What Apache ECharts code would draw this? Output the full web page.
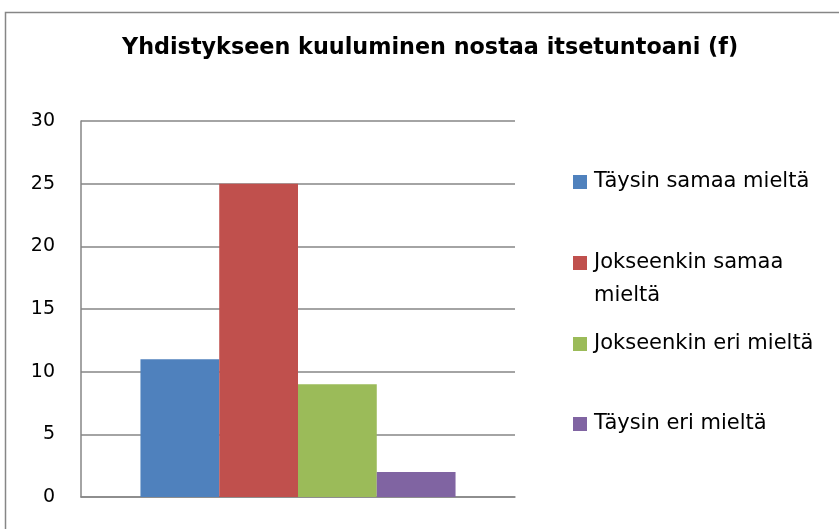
<!DOCTYPE html>
<html>
<head>
<meta charset="utf-8">
<script src="https://cdn.jsdelivr.net/npm/echarts@6/dist/echarts.min.js"></script>
<style>
html,body{margin:0;padding:0;background:#fff;}
#chart{width:839px;height:529px;}
</style>
</head>
<body>
<div id="chart"></div>
<script>
const titleText = 'Yhdistykseen kuuluminen nostaa itsetuntoani (f)';
const categories = [''];
const seriesNames = ['Täysin samaa mieltä', 'Jokseenkin samaa mieltä', 'Jokseenkin eri mieltä', 'Täysin eri mieltä'];
const seriesValues = [11, 25, 9, 2];
const seriesColors = ['#4F81BD', '#C0504D', '#9BBB59', '#8064A2'];
const yTicks = { min: 0, max: 30, interval: 5 };

const chart = echarts.init(document.getElementById('chart'));
const fontFam = 'DejaVu Sans';
const legendTops = [169, 213.5, 331, 411];

const legends = seriesNames.map((name, i) => ({
  data: [name],
  orient: 'vertical',
  left: 573,
  top: legendTops[i],
  padding: 0,
  icon: 'rect',
  itemWidth: 14,
  itemHeight: 14,
  selectedMode: false,
  formatter: (n) => n === 'Jokseenkin samaa mieltä' ? '\nJokseenkin samaa\nmieltä' : n,
  textStyle: i === 1
    ? { fontFamily: fontFam, fontSize: 21, color: '#000', lineHeight: 33, padding: [0, 0, 0, 2] }
    : { fontFamily: fontFam, fontSize: 21, color: '#000', lineHeight: 26, padding: [0, 0, 0, 2] }
}));

chart.setOption({
  animation: false,
  backgroundColor: '#fff',
  title: {
    text: titleText,
    left: 122,
    top: 37,
    padding: 0,
    textStyle: { fontFamily: fontFam, fontWeight: 'bold', fontSize: 22.3, color: '#000' }
  },
  graphic: [{
    type: 'rect',
    shape: { x: 5.5, y: 12.5, width: 900, height: 600 },
    style: { fill: 'none', stroke: '#868686', lineWidth: 1.5 },
    silent: true
  }],
  legend: legends,
  grid: { left: 81, top: 121, right: 324, bottom: 32, containLabel: false },
  xAxis: {
    type: 'category',
    data: categories,
    axisLine: { show: true, lineStyle: { color: '#868686', width: 1.5 } },
    axisTick: { show: false },
    axisLabel: { show: false }
  },
  yAxis: {
    type: 'value',
    min: yTicks.min,
    max: yTicks.max,
    interval: yTicks.interval,
    axisLine: { show: true, lineStyle: { color: '#868686', width: 1.5 } },
    axisTick: { show: false },
    axisLabel: { margin: 26, fontFamily: fontFam, fontSize: 19, color: '#000' },
    splitLine: { show: true, lineStyle: { color: '#868686', width: 1.5 } }
  },
  series: seriesNames.map((name, i) => ({
    name: name,
    type: 'bar',
    data: [seriesValues[i]],
    itemStyle: { color: seriesColors[i] },
    barGap: '0%',
    barCategoryGap: '27.4%'
  }))
});
</script>
</body>
</html>
